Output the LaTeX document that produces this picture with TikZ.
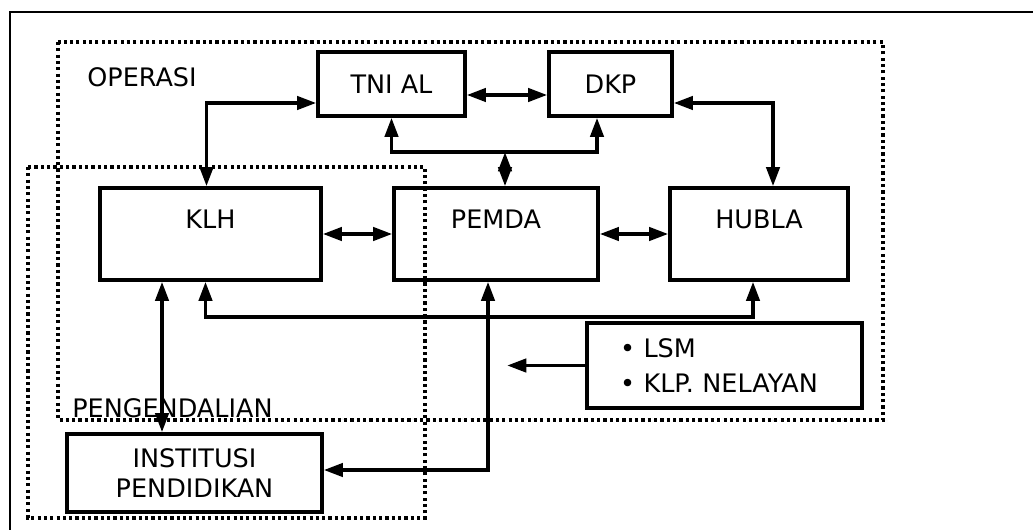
\documentclass[tikz,border=0pt]{standalone}
\usepackage{fontspec}
\setmainfont{DejaVu Sans}
\usetikzlibrary{arrows.meta, calc}

\begin{document}
\begin{tikzpicture}[
    x=0.02cm, y=-0.02cm,
    box/.style={
      draw, line width=1.9pt, font=\fontsize{14.5}{17}\selectfont,
      inner sep=2pt, minimum height=1.28cm
    },
    bigbox/.style={box, minimum height=1.84cm, text height=0.4cm, text depth=0.64cm},
    arr/.style={{Triangle[length=11pt,width=7.5pt]}-{Triangle[length=11pt,width=7.5pt]}, line width=2.2pt},
    oneway/.style={-{Triangle[length=11pt,width=7.5pt]}, line width=2.2pt},
    zone/.style={line width=2pt, dash pattern=on 1.8pt off 1.8pt},
    lbl/.style={font=\fontsize{14.5}{17}\selectfont, anchor=base west, inner sep=0pt}
  ]
    \useasboundingbox (0,0) rectangle (1033,530);

    % Outer frame
    \draw[line width=1.7pt] (10,530) -- (10,12) -- (1033,12);

    % Zones
    \draw[zone] (58,42) rectangle (883,420);
    \draw[zone] (28,167) rectangle (425,518);
    \node[lbl] (operasi) at (87,87) {OPERASI};
    \node[lbl] (pengendalian) at (72,417) {PENGENDALIAN};

    % Boxes
    \node[box, minimum width=2.94cm] (tni)   at (391.5,84) {TNI AL};
    \node[box, minimum width=2.46cm] (dkp)   at (610.5,84) {DKP};
    \node[bigbox, minimum width=4.42cm] (klh)   at (210.5,234) {KLH};
    \node[bigbox, minimum width=4.08cm] (pemda) at (496,234) {PEMDA};
    \node[bigbox, minimum width=3.56cm] (hubla) at (759,234) {HUBLA};
    \node[box, minimum width=5.5cm, minimum height=1.7cm, text width=4.18cm,
          inner xsep=0.66cm, align=left, font=\fontsize{14.5}{20}\selectfont]
                                     (lsm)   at (724.5,365.5) {\textbullet\ LSM\\\textbullet\ KLP. NELAYAN};
    \node[box, minimum width=5.1cm, minimum height=1.56cm, align=center,
          font=\fontsize{14.5}{17}\selectfont]
                                     (inst)  at (194.5,473) {INSTITUSI\\PENDIDIKAN};

    % Helper coordinates
    \coordinate (tbus) at (0,152);
    \coordinate (bbus) at (0,317);
    \coordinate (lsmend) at (507,365.5);

    % Connectors (top)
    \draw[arr] ([yshift=-0.22cm]tni.east) -- ([yshift=-0.22cm]dkp.west);
    \draw[arr] ([yshift=-0.38cm]tni.west) -| ([xshift=-0.08cm]klh.north);
    \draw[arr] ([yshift=-0.38cm]dkp.east) -| ([xshift=0.28cm]hubla.north);
    \draw[arr] (tni.south) -- (tni.south |- tbus) -| ([xshift=-0.27cm]dkp.south);
    \draw[arr] ([xshift=0.18cm]pemda.north |- tbus) -- ([xshift=0.18cm]pemda.north);

    % Connectors (middle)
    \draw[arr] (klh.east) -- (pemda.west);
    \draw[arr] (pemda.east) -- (hubla.west);
    \draw[arr] ([xshift=-0.1cm]klh.south) -- ([xshift=-0.1cm]klh.south |- bbus)
               -| ([xshift=-0.12cm]hubla.south);

    % Connectors (bottom)
    \draw[arr] ([xshift=-0.97cm]klh.south) -- ([xshift=-0.97cm]klh.south |- inst.north);
    \draw[arr] ([xshift=-0.16cm]pemda.south) |- ([yshift=0.06cm]inst.east);
    \draw[oneway] (lsm.west) -- (lsmend);
  \end{tikzpicture}
\end{document}
